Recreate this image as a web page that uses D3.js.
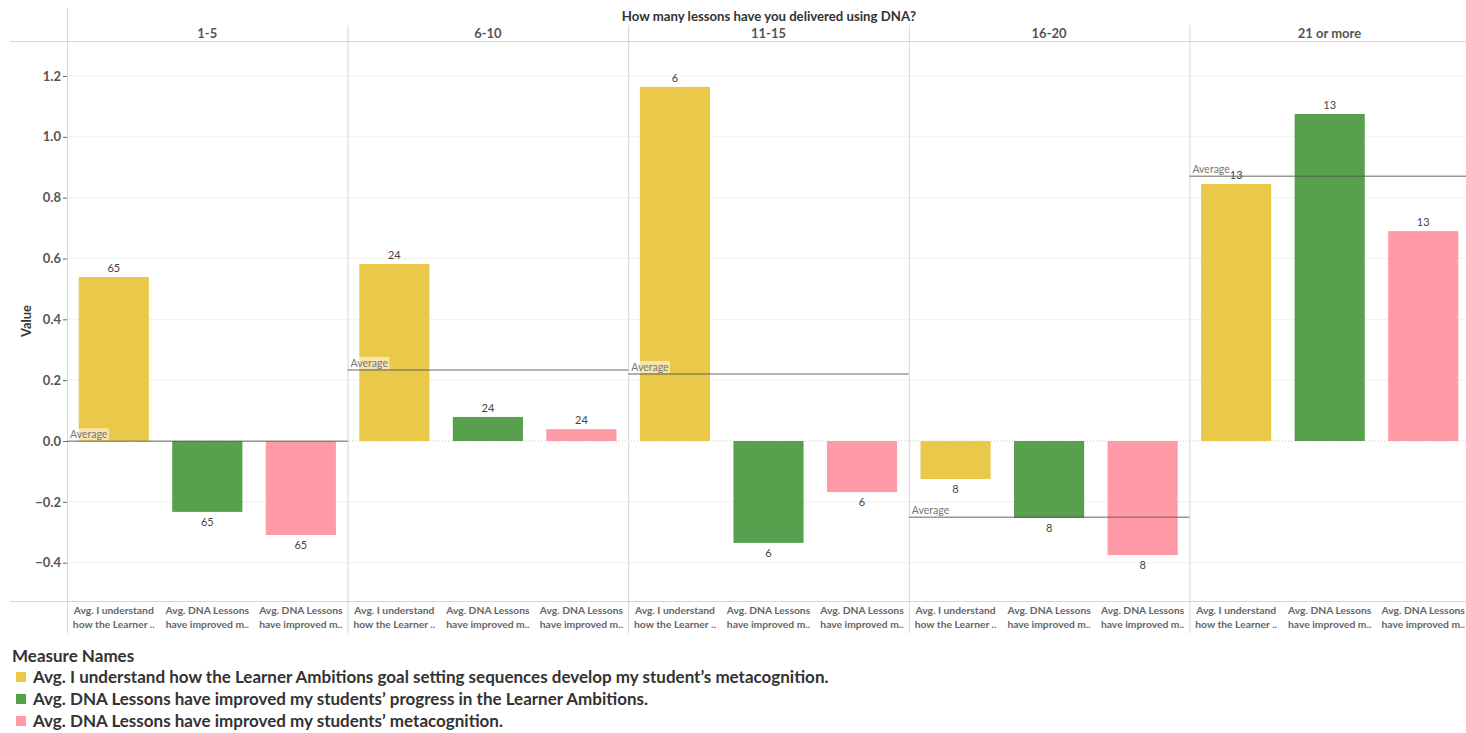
<!DOCTYPE html>
<html>
<head>
<meta charset="utf-8">
<script src="https://cdn.jsdelivr.net/npm/d3@7"></script>
<style>
  html, body { margin: 0; padding: 0; background: #fff; }
  svg { display: block; font-family: Lato, "Noto Sans", sans-serif; }
</style>
</head>
<body>
<svg id="chart" width="1466" height="733"></svg>
<script>
// Columns: how many lessons delivered
const groups = ["1-5", "6-10", "11-15", "16-20", "21 or more"];
// Measures shown within each column
const measures = [
  "Avg. I understand how the Learner Ambitions goal setting sequences develop my student\u2019s metacognition.",
  "Avg. DNA Lessons have improved my students\u2019 progress in the Learner Ambitions.",
  "Avg. DNA Lessons have improved my students\u2019 metacognition."
];
const axisLabelLines = [
  ["Avg. I understand", "how the Learner .."],
  ["Avg. DNA Lessons", "have improved m.."],
  ["Avg. DNA Lessons", "have improved m.."]
];
const colors = ["#eac84a", "#58a04e", "#fe9ba6"];
// Average value per measure, one row per column
const understandValues = [0.539, 0.582, 1.164, -0.125, 0.845];
const progressValues   = [-0.233, 0.079, -0.335, -0.253, 1.075];
const metacogValues    = [-0.309, 0.039, -0.168, -0.375, 0.690];
// Number of responses in each column
const counts = [65, 24, 6, 8, 13];
const yTicks = [-0.4, -0.2, 0.0, 0.2, 0.4, 0.6, 0.8, 1.0, 1.2];

const series = [understandValues, progressValues, metacogValues];

const svg = d3.select("#chart");
const plotLeft = 67, plotRight = 1470, plotTop = 41, plotBottom = 601;

const xGroup = d3.scaleBand().domain(groups).range([plotLeft, plotRight]).padding(0);
const xMeasure = d3.scaleBand().domain(d3.range(measures.length))
  .range([0, xGroup.bandwidth()]).paddingInner(0.25).paddingOuter(0.125);
const y = d3.scaleLinear().domain([-0.526, 1.315]).range([plotBottom, plotTop]);

// Gridlines
svg.append("g").selectAll("line").data(yTicks.filter(d => d !== 0)).join("line")
  .attr("x1", plotLeft).attr("x2", plotRight)
  .attr("y1", d => y(d)).attr("y2", d => y(d))
  .attr("stroke", "#f0f0f0").attr("stroke-width", 1);

// Zero line
svg.append("line")
  .attr("x1", plotLeft).attr("x2", plotRight).attr("y1", y(0)).attr("y2", y(0))
  .attr("stroke", "#c8c8c8").attr("stroke-dasharray", "1,2");

// Frame lines
svg.append("line").attr("x1", 10).attr("x2", 1466).attr("y1", plotTop + 0.5).attr("y2", plotTop + 0.5)
  .attr("stroke", "#d6d6d6");
svg.append("line").attr("x1", 10).attr("x2", 1466).attr("y1", plotBottom + 0.5).attr("y2", plotBottom + 0.5)
  .attr("stroke", "#d6d6d6");
svg.append("line").attr("x1", plotLeft + 0.5).attr("x2", plotLeft + 0.5).attr("y1", 8).attr("y2", 633)
  .attr("stroke", "#d6d6d6");
svg.append("g").selectAll("line").data(groups.slice(1)).join("line")
  .attr("x1", d => xGroup(d) + 0.5).attr("x2", d => xGroup(d) + 0.5)
  .attr("y1", 25).attr("y2", 633)
  .attr("stroke", "#d6d6d6");

// Title and column headers
svg.append("text").attr("x", 769).attr("y", 21).attr("text-anchor", "middle")
  .attr("font-size", 13.2).attr("font-weight", 700).attr("fill", "#333")
  .text("How many lessons have you delivered using DNA?");
svg.append("g").selectAll("text").data(groups).join("text")
  .attr("x", d => d === "21 or more" ? xGroup(d) + 140 : xGroup(d) + xGroup.bandwidth() / 2)
  .attr("y", 38).attr("text-anchor", "middle")
  .attr("font-size", 13).attr("font-weight", 700).attr("fill", "#555")
  .text(d => d);

// Y axis
const yAxis = d3.axisLeft(y).tickValues(yTicks).tickFormat(d3.format(".1f")).tickSize(4).tickPadding(2);
const gy = svg.append("g").attr("transform", `translate(${plotLeft},0)`).call(yAxis);
gy.select(".domain").remove();
gy.selectAll(".tick line").attr("stroke", "#666");
gy.selectAll(".tick text").attr("font-size", 13).attr("font-weight", 700).attr("fill", "#555")
  .attr("font-family", "Lato, sans-serif");
svg.append("text").attr("transform", `translate(31,${(plotTop + plotBottom) / 2}) rotate(-90)`)
  .attr("text-anchor", "middle").attr("font-size", 13).attr("font-weight", 700).attr("fill", "#333")
  .text("Value");

// Bars, labels and per-column averages
const panels = svg.append("g");
groups.forEach((g, gi) => {
  const gx = xGroup(g);
  const pg = panels.append("g").attr("transform", `translate(${gx},0)`);
  const rows = series.map((s, mi) => ({ mi, v: s[gi] }));
  pg.selectAll("rect").data(rows).join("rect")
    .attr("x", d => xMeasure(d.mi))
    .attr("width", xMeasure.bandwidth())
    .attr("y", d => y(Math.max(0, d.v)))
    .attr("height", d => Math.abs(y(d.v) - y(0)))
    .attr("fill", d => colors[d.mi]);
  pg.selectAll("text.val").data(rows).join("text").attr("class", "val")
    .attr("x", d => xMeasure(d.mi) + xMeasure.bandwidth() / 2)
    .attr("y", d => d.v >= 0 ? y(d.v) - 5 : y(d.v) + 14)
    .attr("text-anchor", "middle").attr("font-size", 11).attr("fill", "#444")
    .text(counts[gi]);
  // x-axis labels
  rows.forEach(d => {
    const t = pg.append("text").attr("text-anchor", "middle")
      .attr("x", xMeasure(d.mi) + xMeasure.bandwidth() / 2)
      .attr("font-size", 10.3).attr("font-weight", 700).attr("fill", "#666");
    axisLabelLines[d.mi].forEach((line, li) => {
      t.append("tspan").attr("x", xMeasure(d.mi) + xMeasure.bandwidth() / 2)
        .attr("y", 614 + li * 14).text(line);
    });
  });
  // average reference line
  const avg = d3.mean(rows, d => d.v);
  const lbl = pg.append("g").attr("transform", `translate(2,${y(avg) - 3})`);
  const txt = lbl.append("text").attr("x", 1).attr("y", 0)
    .attr("font-size", 10.5).attr("fill", "#777").text("Average");
  const bb = txt.node().getBBox();
  lbl.insert("rect", "text").attr("x", bb.x - 1).attr("y", bb.y).attr("width", bb.width + 2).attr("height", bb.height)
    .attr("fill", "#fff").attr("opacity", 0.55);
  pg.append("line").attr("x1", 0).attr("x2", xGroup.bandwidth())
    .attr("y1", y(avg)).attr("y2", y(avg))
    .attr("stroke", "#555").attr("stroke-opacity", 0.6).attr("stroke-width", 1.5);
});

// Legend
const legend = svg.append("g").attr("transform", "translate(12,0)");
legend.append("text").attr("x", 0).attr("y", 662).attr("font-size", 17).attr("font-weight", 700)
  .attr("fill", "#333").text("Measure Names");
measures.forEach((m, i) => {
  const yy = 683 + i * 22;
  legend.append("rect").attr("x", 4).attr("y", yy - 11).attr("width", 10).attr("height", 10)
    .attr("fill", colors[i]);
  legend.append("text").attr("x", 21).attr("y", yy).attr("font-size", 17).attr("font-weight", 700)
    .attr("fill", "#333").text(m);
});
</script>
</body>
</html>
